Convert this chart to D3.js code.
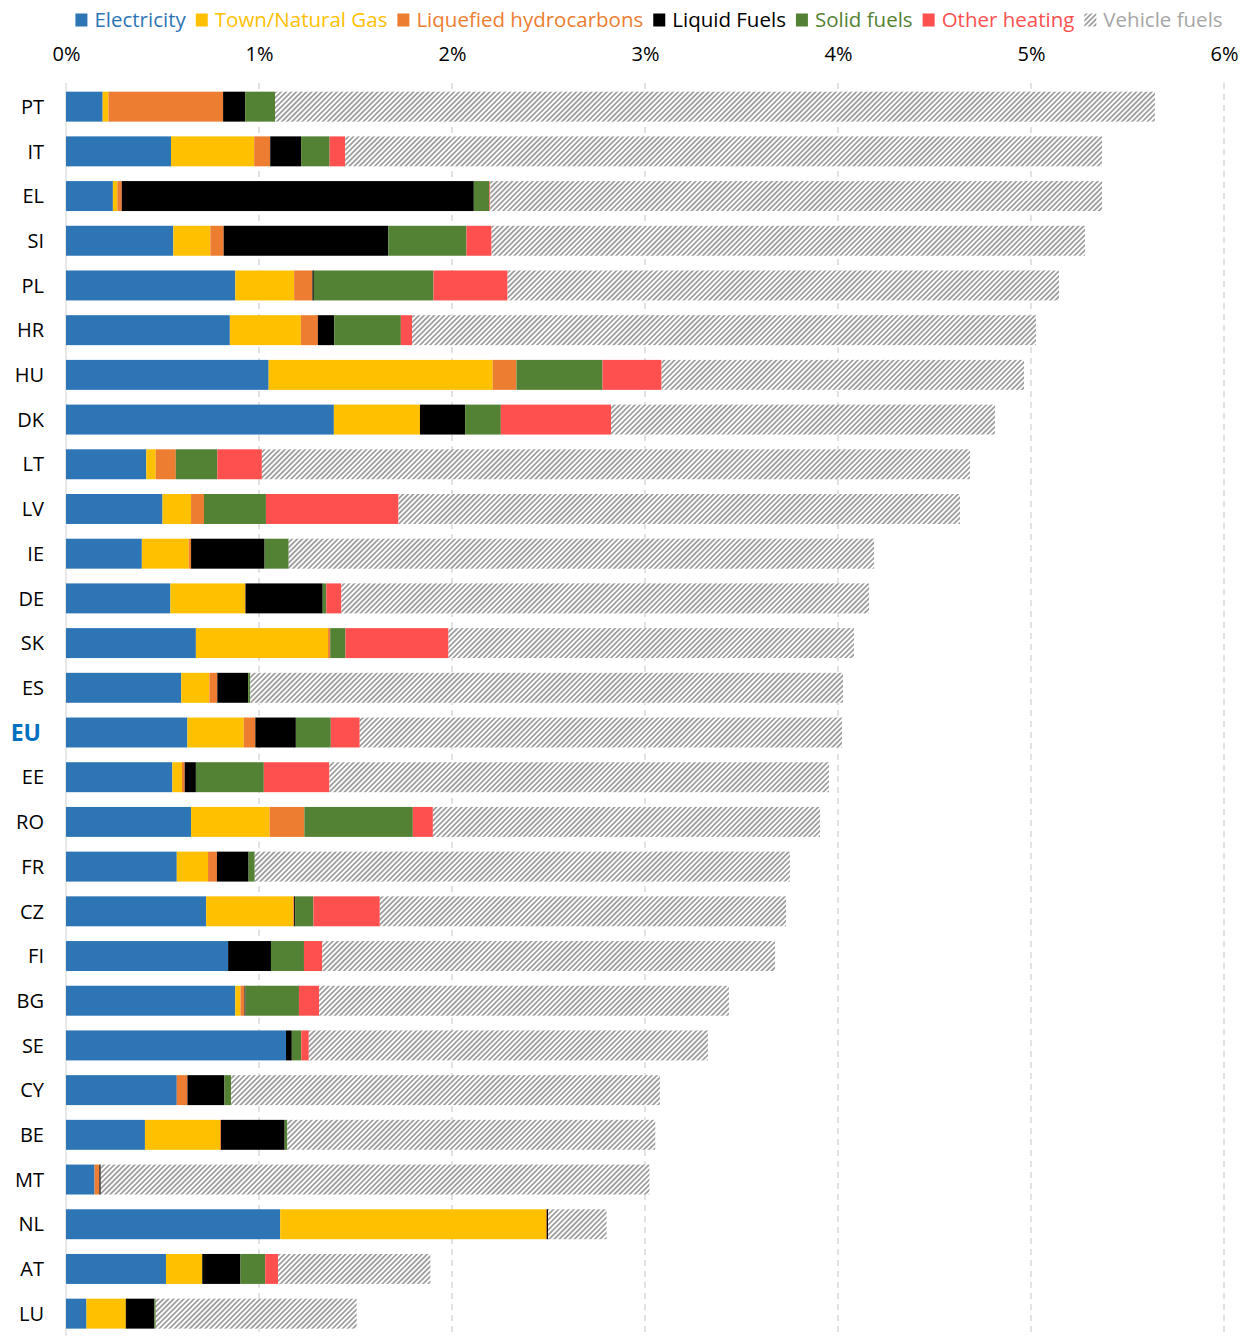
<!DOCTYPE html>
<html>
<head>
<meta charset="utf-8">
<script src="https://cdn.jsdelivr.net/npm/d3@7"></script>
<style>
  html, body { margin: 0; padding: 0; background: #fff; }
  svg { display: block; font-family: "Open Sans", sans-serif; }
</style>
</head>
<body>
<svg id="chart" width="1249" height="1336"></svg>
<script>
const categories = ["PT","IT","EL","SI","PL","HR","HU","DK","LT","LV","IE","DE","SK","ES","EU","EE","RO","FR","CZ","FI","BG","SE","CY","BE","MT","NL","AT","LU"];
const seriesNames = ["Electricity","Town/Natural Gas","Liquefied hydrocarbons","Liquid Fuels","Solid fuels","Other heating","Vehicle fuels"];
const electricity = [0.19,0.544,0.243,0.556,0.877,0.849,1.05,1.388,0.416,0.5,0.393,0.541,0.673,0.597,0.629,0.551,0.648,0.574,0.726,0.84,0.877,1.14,0.574,0.409,0.148,1.11,0.518,0.106];
const naturalGas  = [0.03,0.431,0.023,0.192,0.305,0.368,1.161,0.446,0.049,0.148,0.243,0.387,0.685,0.146,0.292,0.05,0.407,0.162,0.451,0,0.027,0,0,0.389,0,1.377,0.188,0.204];
const liquefied   = [0.594,0.083,0.023,0.069,0.095,0.088,0.123,0,0.104,0.067,0.012,0.002,0.011,0.041,0.06,0.014,0.18,0.046,0.005,0,0.021,0,0.055,0.005,0.025,0.004,0,0];
const liquidFuels = [0.114,0.16,1.824,0.853,0.007,0.085,0,0.234,0,0,0.381,0.4,0,0.16,0.21,0.058,0,0.164,0.005,0.222,0.005,0.03,0.192,0.33,0.007,0.007,0.198,0.148];
const solidFuels  = [0.155,0.148,0.081,0.405,0.62,0.345,0.446,0.185,0.215,0.321,0.125,0.019,0.079,0.011,0.181,0.352,0.562,0.032,0.095,0.171,0.277,0.049,0.035,0.014,0,0,0.128,0.007];
const otherHeating= [0,0.081,0.004,0.13,0.384,0.058,0.306,0.571,0.231,0.687,0,0.078,0.534,0,0.15,0.34,0.104,0,0.344,0.095,0.105,0.039,0,0,0,0,0.067,0];
const vehicleFuels= [4.559,3.921,3.17,3.075,2.857,3.233,1.878,1.989,3.669,2.909,3.033,2.734,2.101,3.071,2.499,2.588,2.006,2.773,2.105,2.346,2.123,2.068,2.221,1.906,2.843,0.303,0.789,1.041];
const tickValues = [0,1,2,3,4,5,6];
const tickLabels = ["0%","1%","2%","3%","4%","5%","6%"];

const colors = ["#2E75B6","#FFC000","#ED7D31","#000000","#548235","#FF5050","url(#hatch)"];
const legendTextColors = ["#2E75B6","#FFC000","#ED7D31","#000000","#548235","#FF5050","#A6A6A6"];
const seriesArrays = [electricity, naturalGas, liquefied, liquidFuels, solidFuels, otherHeating, vehicleFuels];

const rows = categories.map((c, i) => {
  const r = {cat: c};
  seriesNames.forEach((s, j) => r[s] = seriesArrays[j][i]);
  return r;
});

const svg = d3.select("#chart");
const defs = svg.append("defs");
const pat = defs.append("pattern")
  .attr("id", "hatch")
  .attr("patternUnits", "userSpaceOnUse")
  .attr("width", 3.6).attr("height", 3.6)
  .attr("patternTransform", "rotate(45)");
pat.append("rect").attr("width", 3.6).attr("height", 3.6).attr("fill", "#ffffff");
pat.append("line").attr("x1", 0.9).attr("y1", 0).attr("x2", 0.9).attr("y2", 3.6)
  .attr("stroke", "#9a9a9a").attr("stroke-width", 1.7);

const x = d3.scaleLinear().domain([0, 6]).range([66, 1224]);
const y = d3.scaleBand().domain(categories).range([84.3, 1336]).paddingInner(0.33).paddingOuter(0.165);

// gridlines
svg.append("g").selectAll("line").data(tickValues.filter(d => d > 0)).join("line")
  .attr("x1", d => x(d)).attr("x2", d => x(d))
  .attr("y1", 83).attr("y2", 1336)
  .attr("stroke", "#D9D9D9").attr("stroke-width", 1.5)
  .attr("stroke-dasharray", "6,5");
svg.append("line").attr("x1", x(0)).attr("x2", x(0)).attr("y1", 83).attr("y2", 1336)
  .attr("stroke", "#D9D9D9").attr("stroke-width", 1.2);

// bars
const stack = d3.stack().keys(seriesNames);
const stacked = stack(rows);
svg.append("g").selectAll("g").data(stacked).join("g")
  .attr("fill", (d, i) => colors[i])
  .selectAll("rect").data(d => d).join("rect")
  .attr("x", d => x(d[0]))
  .attr("width", d => Math.max(0, x(d[1]) - x(d[0])))
  .attr("y", d => y(d.data.cat))
  .attr("height", y.bandwidth());

// top axis
const xAxis = d3.axisTop(x).tickValues(tickValues).tickFormat((d, i) => tickLabels[i]).tickSize(0).tickPadding(0);
const gx = svg.append("g").attr("transform", "translate(0,61)").call(xAxis);
gx.select(".domain").remove();
gx.selectAll("text").attr("font-size", 20).attr("font-family", "'Open Sans', sans-serif").attr("fill", "#000").attr("dy", "0");

// left axis
const yAxis = d3.axisLeft(y).tickSize(0).tickPadding(22);
const gy = svg.append("g").attr("transform", `translate(${x(0)},0)`).call(yAxis);
gy.select(".domain").remove();
gy.selectAll("text").attr("font-size", d => d === "EU" ? 23 : 20).attr("font-family", "'Open Sans', sans-serif")
  .attr("fill", d => d === "EU" ? "#0070C0" : "#000")
  .attr("font-weight", d => d === "EU" ? "bold" : "normal")
  .attr("dx", d => d === "EU" ? -3 : 0)
  .attr("dy", "0.36em");

// legend
const legend = svg.append("g");
let cx = 0;
seriesNames.forEach((s, i) => {
  const g = legend.append("g");
  g.append("rect").attr("x", cx).attr("y", 13.5).attr("width", 12).attr("height", 13)
    .attr("fill", colors[i]);
  const t = g.append("text").attr("x", cx + 19).attr("y", 26.5)
    .attr("font-size", 20.5).attr("fill", legendTextColors[i]).text(s);
  const w = t.node().getComputedTextLength();
  cx += 19 + w + 10;
});
const totalW = cx - 10;
legend.attr("transform", `translate(${649 - totalW / 2},0)`);
</script>
</body>
</html>
